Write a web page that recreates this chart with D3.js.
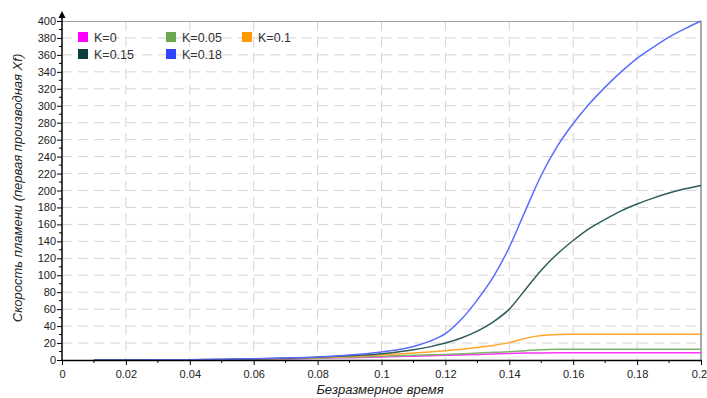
<!DOCTYPE html>
<html><head><meta charset="utf-8">
<script src="https://cdn.jsdelivr.net/npm/d3@7"></script>
<style>body{margin:0;background:#fff}svg{display:block;font-family:"Liberation Sans",Arial,sans-serif}</style>
</head><body><svg id="c" width="707" height="398"></svg>
<script>
const tValues = [0.01,0.02,0.03,0.04,0.05,0.06,0.07,0.08,0.09,0.1,0.105,0.11,0.115,0.12,0.125,0.13,0.135,0.14,0.145,0.15,0.155,0.16,0.165,0.17,0.175,0.18,0.185,0.19,0.195,0.2];
const seriesNames = ["K=0","K=0.05","K=0.1","K=0.15","K=0.18"];
const k0    = [0,0.1,0.15,0.25,0.4,0.8,1.3,2,2.8,3.6,4,4.5,5,5.5,6,6.6,7.2,7.8,8.2,8.4,8.5,8.5,8.5,8.5,8.5,8.5,8.5,8.5,8.5,8.5];
const k005  = [0,0.1,0.2,0.3,0.5,0.9,1.5,2.3,3.3,4.5,5,5.6,6.1,6.6,7.3,8.2,9,9.8,11,12.2,12.6,12.7,12.7,12.7,12.7,12.7,12.7,12.7,12.7,12.7];
const k01   = [0,0.1,0.2,0.3,0.6,1,1.7,2.8,4.2,6,7,8.2,9.5,11,12.8,14.8,17.2,20.5,25.5,28.8,30,30.3,30.4,30.4,30.5,30.5,30.5,30.5,30.5,30.5];
const k015  = [0,0.1,0.2,0.4,0.7,1.3,2.2,3.2,5,7.5,9.5,12,15.5,20,26,34,45,60,83,106,125,141,155,166,176,184,191,197,202,206];
const k018  = [0,0.1,0.2,0.4,0.8,1.5,2.4,3.6,5.8,9.5,12,16,22,31,48,71,98,133,176,218,252,279,302,322,340,356,369,381,391,400];
const lineColors = ["#ff33ff","#7fb46a","#ffa62b","#2f5c5c","#5a6cff"];
const legendColors = ["#ff00ff","#6aa84f","#ff9900","#0e3f3f","#3344ff"];
const xTicks = [0,0.02,0.04,0.06,0.08,0.1,0.12,0.14,0.16,0.18,0.2];
const yTicks = d3.range(0,401,20);

const svg = d3.select("#c");
const x = d3.scaleLinear().domain([0,0.2]).range([62,701]);
const y = d3.scaleLinear().domain([0,400]).range([360,21]);

// grid
const g = svg.append("g");
g.selectAll(".hg").data(yTicks.filter(d=>d>0&&d<400)).enter().append("line")
 .attr("x1",62).attr("x2",701).attr("y1",d=>y(d)).attr("y2",d=>y(d))
 .attr("stroke","#d4d4d4").attr("stroke-dasharray","10,6");
g.selectAll(".vg").data(xTicks.filter(d=>d>0&&d<0.2)).enter().append("line")
 .attr("x1",d=>x(d)).attr("x2",d=>x(d)).attr("y1",21).attr("y2",360)
 .attr("stroke","#d4d4d4").attr("stroke-dasharray","10,6");
// borders
svg.append("line").attr("x1",62).attr("x2",701).attr("y1",21.5).attr("y2",21.5).attr("stroke","#a0a0a0");
svg.append("line").attr("x1",701).attr("x2",701).attr("y1",21).attr("y2",360).attr("stroke","#a8a8a8").attr("stroke-width",2);

// lines
const all = [k0,k005,k01,k015,k018];
const line = d3.line().x((d,i)=>x(tValues[i])).y(d=>y(d)).curve(d3.curveMonotoneX);
all.forEach((s,i)=>{
  svg.append("path").attr("d",line(s)).attr("fill","none").attr("stroke",lineColors[i]).attr("stroke-width",1.5);
});

// axes
const xAxis = d3.axisBottom(x).tickValues(xTicks).tickFormat(d=>d===0?"0":d3.format("")(+d.toFixed(2))).tickSize(5).tickSizeOuter(0);
const xg = svg.append("g").attr("transform","translate(0,360)").call(xAxis);
xg.select(".domain").attr("stroke","#000").attr("stroke-width",1.5);
xg.selectAll("text").attr("font-size",11).attr("fill","#222").attr("dy","0.9em");
xg.selectAll(".tick").filter(d=>d===0.2).select("text").attr("x",-2);
svg.append("g").attr("transform","translate(0,360)").selectAll("line").data(d3.range(0.01,0.2,0.02)).enter().append("line")
 .attr("x1",d=>x(d)).attr("x2",d=>x(d)).attr("y1",0).attr("y2",3).attr("stroke","#000");

const yAxis = d3.axisLeft(y).tickValues(yTicks).tickSize(5).tickSizeOuter(0);
const yg = svg.append("g").attr("transform","translate(62,0)").call(yAxis);
yg.select(".domain").remove();
yg.selectAll("text").attr("font-size",11).attr("fill","#222").attr("x",-6);
svg.append("g").attr("transform","translate(62,0)").selectAll("line").data(d3.range(10,400,20)).enter().append("line")
 .attr("x1",-3).attr("x2",0).attr("y1",d=>y(d)).attr("y2",d=>y(d)).attr("stroke","#000");
svg.append("line").attr("x1",62).attr("x2",62).attr("y1",360.5).attr("y2",15).attr("stroke","#000").attr("stroke-width",1.5);
svg.append("path").attr("d","M62,11 L65.5,18 L58.5,18 Z").attr("fill","#000");

// axis titles
svg.append("text").attr("x",380).attr("y",394).attr("text-anchor","middle").attr("font-size",13).attr("font-style","italic").attr("fill","#222").text("Безразмерное время");
svg.append("text").attr("transform","translate(22,188) rotate(-90)").attr("text-anchor","middle").attr("font-size",13).attr("font-style","italic").attr("fill","#222").text("Скорость пламени (первая производная Xf)");

// legend
const legPos = [[78,32],[166,32],[242,32],[78,49],[166,49]];
seriesNames.forEach((n,i)=>{
  const [lx,ly]=legPos[i];
  svg.append("rect").attr("x",lx).attr("y",ly).attr("width",10).attr("height",10).attr("fill",legendColors[i]);
  svg.append("text").attr("x",lx+16).attr("y",ly+10).attr("font-size",12.5).attr("fill","#333").text(n);
});
</script></body></html>
